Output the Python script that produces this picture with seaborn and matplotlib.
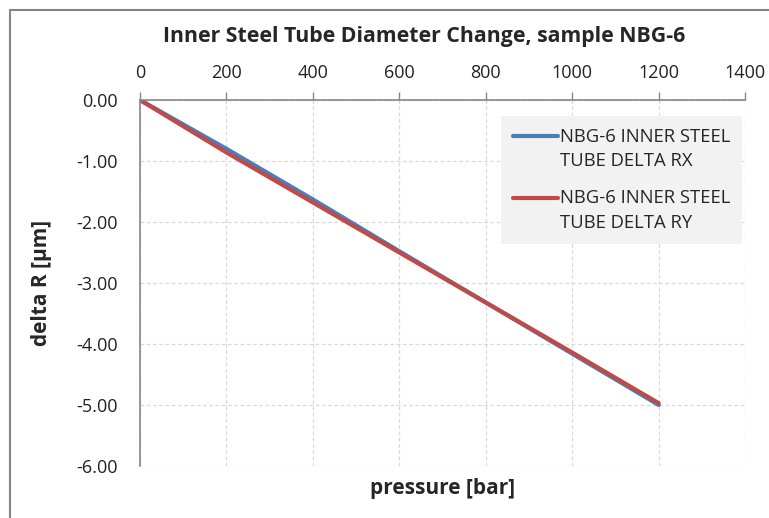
import numpy as np
import pandas as pd
import seaborn as sns
import matplotlib.pyplot as plt
from matplotlib.lines import Line2D
from matplotlib.legend_handler import HandlerLine2D

pressure = [0, 200, 400, 600, 800, 1000, 1200]
delta_rx = [0.00, -0.80, -1.63, -2.48, -3.32, -4.16, -5.00]
delta_ry = [0.00, -0.86, -1.68, -2.50, -3.32, -4.14, -4.97]
series_names = ["NBG-6 INNER STEEL\nTUBE DELTA RX", "NBG-6 INNER STEEL\nTUBE DELTA RY"]
x_ticks = [0, 200, 400, 600, 800, 1000, 1200, 1400]
y_ticks = [0, -1, -2, -3, -4, -5, -6]

df = pd.concat([
    pd.DataFrame({"pressure": pressure, "delta": delta_rx, "series": series_names[0]}),
    pd.DataFrame({"pressure": pressure, "delta": delta_ry, "series": series_names[1]}),
])


class TopLineHandler(HandlerLine2D):
    # put the legend swatch next to the first text line, like Excel does
    def create_artists(self, legend, orig_handle, xdescent, ydescent,
                       width, height, fontsize, trans):
        arts = super().create_artists(legend, orig_handle, xdescent, ydescent,
                                      width, height, fontsize, trans)
        for a in arts:
            a.set_ydata(np.asarray(a.get_ydata()) + 0.72 * fontsize)
        return arts


sns.set_style("white")
plt.rcParams["font.family"] = ["Open Sans", "DejaVu Sans"]

fig = plt.figure(figsize=(7.69, 5.18), dpi=100)
ax = fig.add_axes([0.182, 0.1004, 0.787, 0.7066])

sns.lineplot(df, x="pressure", y="delta", hue="series",
             palette=["#4a7ebb", "#be4b48"], linewidth=3.0, ax=ax)

ax.set_xlim(0, 1400)
ax.set_ylim(-6, 0)
ax.set_xticks(x_ticks)
ax.set_yticks(y_ticks)
ax.set_yticklabels([f"{v:.2f}" for v in y_ticks])
ax.xaxis.tick_top()
ax.tick_params(axis="both", labelsize=13, color="#868686", length=6, width=1,
               direction="out", labelcolor="#222222")
ax.tick_params(axis="x", pad=7)
ax.tick_params(axis="y", pad=10)

ax.grid(True, linestyle=(0, (3, 2)), color="#d9d9d9", linewidth=0.9)
for side in ["bottom", "right"]:
    ax.spines[side].set_visible(False)
for side in ["top", "left"]:
    ax.spines[side].set_color("#868686")
    ax.spines[side].set_linewidth(1.2)

ax.set_xlabel("pressure [bar]", fontsize=15, fontweight="bold")
ax.xaxis.set_label_position("bottom")
ax.xaxis.labelpad = 9
ax.set_ylabel("delta R [µm]", fontsize=15, fontweight="bold", labelpad=17)
fig.text(0.552, 0.930, "Inner Steel Tube Diameter Change, sample NBG-6",
         ha="center", va="center", fontsize=15.3, fontweight="bold")

handles, labels = ax.get_legend_handles_labels()
leg = ax.legend(handles, labels, loc="upper right", bbox_to_anchor=(0.995, 0.957),
                fontsize=13.3, frameon=True, fancybox=False, facecolor="#f2f2f2",
                edgecolor="none", framealpha=1, handlelength=2.4, handletextpad=0.12,
                labelspacing=1.05, borderpad=0.65, borderaxespad=0,
                handler_map={Line2D: TopLineHandler()})
for t in leg.get_texts():
    t.set_linespacing(1.45)
for h in leg.get_lines():
    h.set_linewidth(3.0)

# outer chart frame
fig.add_artist(Line2D([0.013, 0.013], [0, 0.981], color="#868686", lw=1.5,
                      transform=fig.transFigure))
fig.add_artist(Line2D([0.013, 1.0], [0.981, 0.981], color="#868686", lw=1.5,
                      transform=fig.transFigure))

fig.savefig("out.png", dpi=100)
